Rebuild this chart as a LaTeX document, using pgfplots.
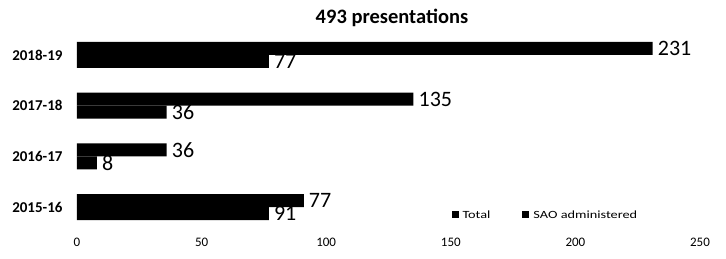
\documentclass[border=0pt]{standalone}
\usepackage{pgfplots}
\pgfplotsset{compat=1.18}
\usepackage{fontspec}
\setmainfont{Carlito}
\newfontfamily\widefont[FakeStretch=1.3]{Carlito}
\begin{document}
\begin{tikzpicture}
\useasboundingbox (0,0) rectangle (726pt,259pt);
\begin{axis}[
  at={(77pt,26.6pt)}, anchor=south west,
  scale only axis, width=623pt, height=202.8pt,
  xmin=0, xmax=250, ymin=-0.5, ymax=3.5,
  xtick={0,50,100,150,200,250},
  ytick={0,1,2,3},
  yticklabels={2015-16,2016-17,2017-18,2018-19},
  yticklabel style={font=\bfseries\fontsize{15}{17}\selectfont, xshift=-11pt},
  xticklabel style={font=\fontsize{13}{15}\selectfont, yshift=-2pt},
  /pgf/number format/assume math mode=true,
  axis line style={draw=none},
  major tick length=0pt,
  xbar, bar width=13pt,
  nodes near coords, point meta=explicit symbolic,
  nodes near coords style={font=\fontsize{22}{26}\selectfont, anchor=west, inner sep=1pt, xshift=4pt},
  legend style={draw=none, fill=none, font=\widefont\fontsize{11}{13}\selectfont, legend columns=2,
    at={(0.596,0.086)}, anchor=west, /tikz/every even column/.append style={column sep=30pt},
    /tikz/every odd column/.append style={column sep=2pt}},
  legend image code/.code={\fill[black] (0pt,-3.5pt) rectangle (7pt,3.5pt);},
]
\addplot[fill=black, draw=none, bar shift=6.5pt] coordinates {(91,0)[77] (36,1)[36] (135,2)[135] (231,3)[231]};
\addplot[fill=black, draw=none, bar shift=-6.5pt] coordinates {(77,0)[91] (8,1)[8] (36,2)[36] (77,3)[77]};
\legend{Total, SAO administered}
\end{axis}
\node[font=\bfseries\fontsize{20.5}{24}\selectfont] at (392pt,241pt) {493 presentations};
\end{tikzpicture}
\end{document}
